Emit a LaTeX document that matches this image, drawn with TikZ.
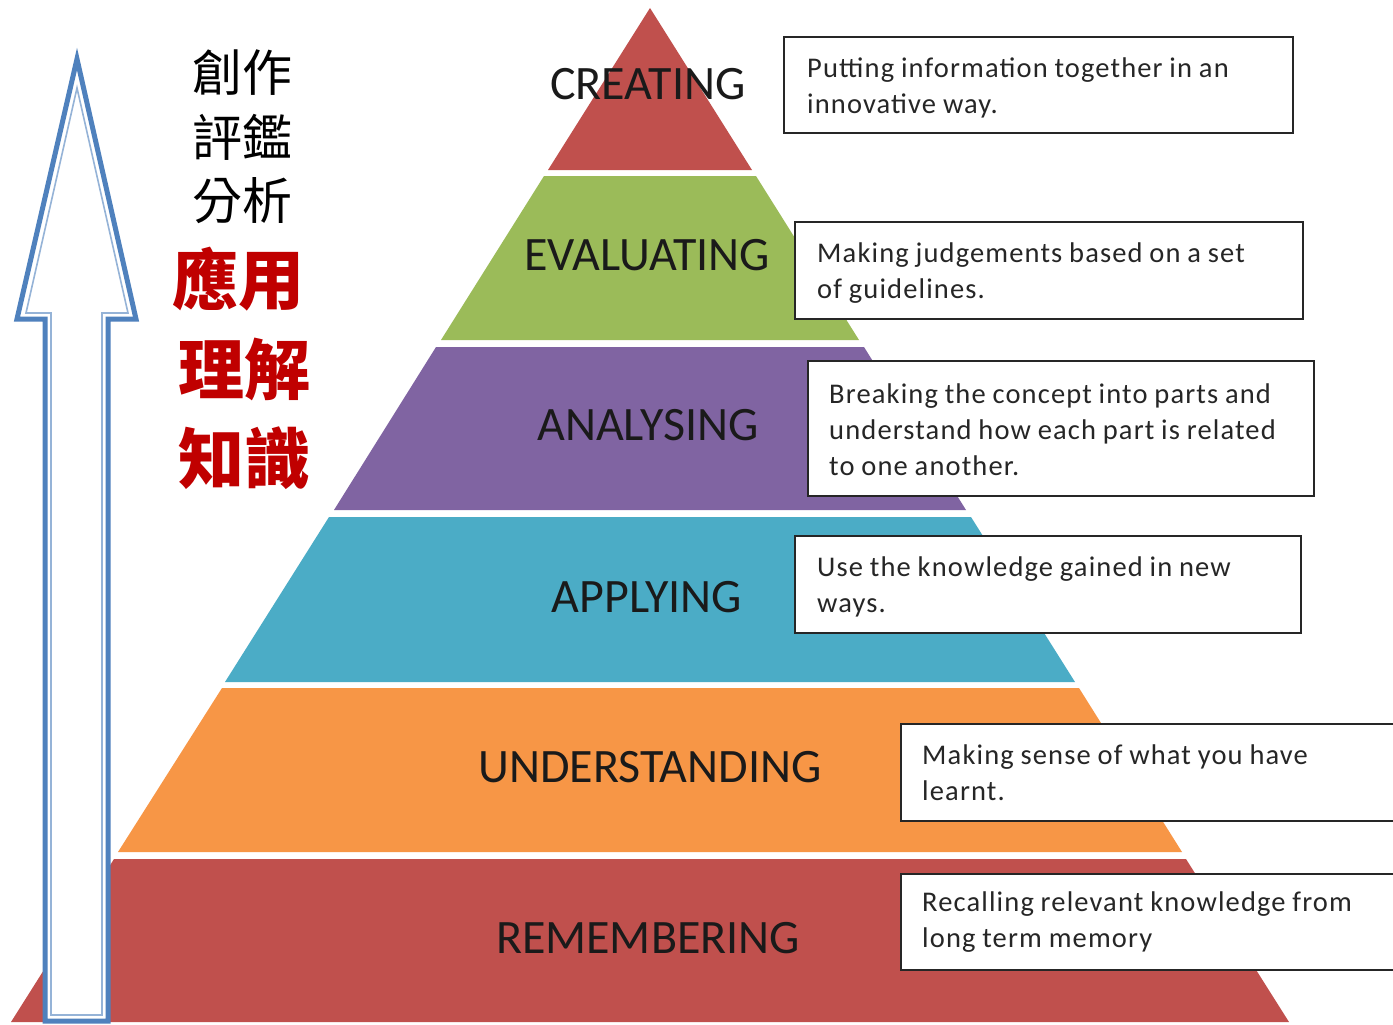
\documentclass[tikz,border=0pt]{standalone}
\usepackage{fontspec}
\setmainfont{Carlito}
\newfontfamily\descfont[LetterSpace=4.0,WordSpace=0.9]{Carlito}
\newfontfamily\cjkfont{Noto Sans CJK TC}
\definecolor{bandred}{HTML}{C0504D}
\definecolor{bandgreen}{HTML}{9BBB59}
\definecolor{bandpurple}{HTML}{8064A2}
\definecolor{bandblue}{HTML}{4BACC6}
\definecolor{bandorange}{HTML}{F79646}
\definecolor{arrowblue}{HTML}{4F81BD}
\definecolor{arrowlight}{HTML}{95B3D7}
\definecolor{cjkred}{HTML}{C00000}
\definecolor{labelink}{HTML}{1A1A1A}
\begin{document}
\begin{tikzpicture}[x=1pt,y=-1pt,
  levellabel/.style={font=\fontsize{48}{56}\selectfont, text=labelink, inner sep=0pt},
  descbox/.style={draw=black!85, line width=2pt, fill=white, inner sep=0pt, anchor=north west},
  desctext/.style={align=left, font=\descfont\fontsize{28.5}{36}\selectfont, text=black!85,
    inner sep=0pt, anchor=west},
  cjkblack/.style={font=\cjkfont\fontsize{50}{56}\selectfont, text=black, inner sep=0pt},
  cjkredtext/.style={font=\cjkfont\bfseries\fontsize{66}{72}\selectfont, text=cjkred, inner sep=0pt}]
\useasboundingbox (0,0) rectangle (1393,1025);
\fill[white] (0,0) rectangle (1393,1025);
% pyramid bands
\fill[bandred]    (650,8) -- (752,170) -- (548,170) -- cycle;
\fill[bandgreen]  (544,176) -- (756,176) -- (859,340) -- (441,340) -- cycle;
\fill[bandpurple] (436,347) -- (864,347) -- (966,510) -- (334,510) -- cycle;
\fill[bandblue]   (329,517) -- (971,517) -- (1075,682) -- (225,682) -- cycle;
\fill[bandorange] (222,688) -- (1079,688) -- (1182,852) -- (118,852) -- cycle;
\fill[bandred]    (114,859) -- (1186,859) -- (1289,1022) -- (11,1022) -- cycle;
% level labels
\node[levellabel] (creating)      at (648,84)  {CREATING};
\node[levellabel] (evaluating)    at (647,255) {EVALUATING};
\node[levellabel] (analysing)     at (648,425) {ANALYSING};
\node[levellabel] (applying)      at (647,597) {APPLYING};
\node[levellabel] (understanding) at (650,767) {UNDERSTANDING};
\node[levellabel] (remembering)   at (648,938) {REMEMBERING};
% arrow
\draw[arrowblue, line width=5pt, fill=white, line join=miter]
  (77,59) -- (136,319) -- (108,319) -- (108,1021) -- (45,1021) -- (45,319) -- (17,319) -- cycle;
\draw[arrowlight, line width=1.6pt, line join=miter]
  (77,88) -- (128,313) -- (102,313) -- (102,1015) -- (51,1015) -- (51,313) -- (26,313) -- cycle;
% description boxes
\node[descbox, minimum width=509pt, minimum height=96pt] (dcreate) at (783,36) {};
\node[desctext] (tcreate) at ([xshift=24pt,yshift=-3pt]dcreate.west)
  {Putting information together in an\\innovative way.};
\node[descbox, minimum width=508pt, minimum height=97pt] (deval) at (794,221) {};
\node[desctext] (teval) at ([xshift=23pt,yshift=-3pt]deval.west)
  {Making judgements based on a set\\of guidelines.};
\node[descbox, minimum width=506pt, minimum height=135pt] (danal) at (807,360) {};
\node[desctext] (tanal) at ([xshift=22pt,yshift=-1pt]danal.west)
  {Breaking the concept into parts and\\understand how each part is related\\to one another.};
\node[descbox, minimum width=506pt, minimum height=97pt] (dapply) at (794,535) {};
\node[desctext] (tapply) at ([xshift=23pt,yshift=-2pt]dapply.west)
  {Use the knowledge gained in new\\ways.};
\node[descbox, minimum width=506pt, minimum height=97pt] (dunder) at (900,723) {};
\node[desctext] (tunder) at ([xshift=22pt]dunder.west)
  {Making sense of what you have\\learnt.};
\node[descbox, minimum width=506pt, minimum height=96pt] (dremem) at (900,873) {};
\node[desctext] (tremem) at ([xshift=22pt]dremem.west)
  {Recalling relevant knowledge from\\long term memory};
% CJK labels
\node[cjkblack]   (c1) at (242,73)  {創作};
\node[cjkblack]   (c2) at (242,137) {評鑑};
\node[cjkblack]   (c3) at (242,201) {分析};
\node[cjkredtext] (c4) at (238,279) {應用};
\node[cjkredtext] (c5) at (244,369) {理解};
\node[cjkredtext] (c6) at (244,458) {知識};
\end{tikzpicture}
\end{document}
